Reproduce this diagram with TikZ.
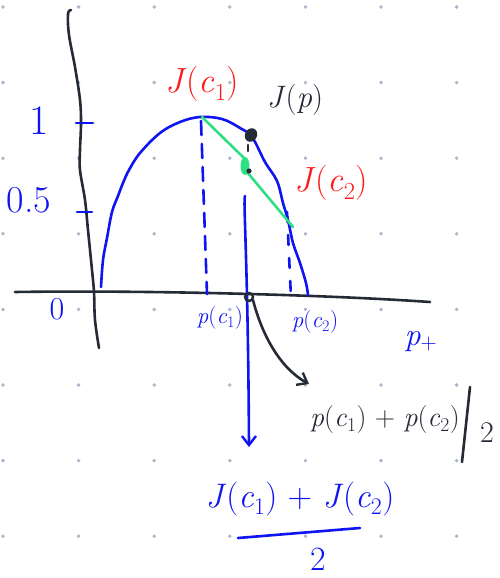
\documentclass[tikz,border=0pt]{standalone}
\usepackage{fontspec}
\usetikzlibrary{arrows.meta}
\definecolor{inkblue}{HTML}{0F14F0}
\definecolor{inkred}{HTML}{FF1A1A}
\definecolor{inkdark}{HTML}{252B36}
\definecolor{inkgreen}{HTML}{2EE083}
\definecolor{griddot}{HTML}{A9B6CC}
\newcommand{\lowsub}[1]{\textsubscript{#1}}
\tikzset{
  pen/.style={line width=2.6pt, line cap=round, line join=round},
  axisline/.style={pen, inkdark},
  bluepen/.style={pen, inkblue},
  dashpen/.style={pen, inkblue, dash pattern=on 14pt off 9pt},
  lbl/.style={inner sep=0pt, font=\fontsize{#1}{#1}\selectfont},
  lbl/.default=28,
  tip/.style={-{Straight Barb[length=9pt,width=14pt,line width=2.4pt]}}
}
\begin{document}
\begin{tikzpicture}[x=1pt,y=-1pt]
\useasboundingbox (0,0) rectangle (499,578);
\fill[white] (0,0) rectangle (499,578);
% dot grid
\foreach \i in {0,...,6}{
  \foreach \j in {0,...,7}{
    \fill[griddot] ({3+75.6*\i},{7+75.6*\j}) circle (1.9);
  }
}
% axes
\draw[axisline] plot[smooth, tension=0.6] coordinates {
  (71,10) (68,14) (69,35) (75,67) (80,100) (81,123) (80,150) (80,170)
  (85,200) (88,230) (92,270) (94,292) (95,320) (99,348)};
\draw[axisline] (15,292) .. controls (150,290) and (330,295) .. (430,302);
% ticks
\draw[bluepen] (76,123) -- (93,123);
\draw[bluepen] (77,212) -- (92,212);
% curve
\draw[bluepen] plot[smooth, tension=0.6] coordinates {
  (101,287) (103,260) (107,238) (112,212) (118,196) (123,183) (129,170)
  (140,153) (160,133) (180,122) (200,117) (222,119) (240,128) (252,137)
  (265,162) (277,181) (283,203) (288,220) (293,243) (300,263) (306,283) (308,295)};
% dashed drop lines
\coordinate (c1top) at (201,121);
\coordinate (c1bot) at (207,294);
\coordinate (c2top) at (287,212);
\coordinate (c2bot) at (291,298);
\draw[dashpen] (c1top) -- (c1bot);
\draw[dashpen, dash pattern=on 10pt off 13pt] (c2top) -- (c2bot);
% green chord
\draw[pen, inkgreen] (202,117) -- (244,158) -- (247,172) -- (293,227);
\fill[inkgreen] (245,166) ellipse (4.5 and 9);
% short dark marks between J(p) and chord
\draw[pen, inkdark] (248,145) -- (248,151);
\fill[inkdark] (249,171) circle (2.6);
% J(p) dot
\fill[inkdark, rotate around={-30:(251,135)}] (251,135) ellipse (6 and 7);
% vertical arrow down to the fraction
\coordinate (vtop) at (245,196);
\coordinate (vbot) at (249,447);
\draw[bluepen, tip] (vtop) .. controls (243,200) and (248,260) .. (vbot);
% midpoint on axis
\draw[inkdark, line width=2.4pt] (249,297) circle (4);
% curved black arrow
\coordinate (cstart) at (253,300);
\coordinate (cend) at (309,384);
\draw[axisline, tip] (cstart) .. controls (262,335) and (280,368) .. (cend);
% labels
\node[lbl=42, inkblue] (one) at (39,121) {1};
\node[lbl=38, inkblue] (half) at (29,200) {0.5};
\node[lbl=32, inkblue] (zero) at (57,309) {0};
\node[lbl=35, inkred] (Jc1) at (202,84) {\textit{J}(\textit{c}\lowsub{1})};
\node[lbl=31, inkdark] (Jp) at (295,100) {\textit{J}(\textit{p})};
\node[lbl=35, inkred] (Jc2) at (331,183) {\textit{J}(\textit{c}\lowsub{2})};
\node[lbl=23, inkblue] (pc1) at (220,318) {\textit{p}(\textit{c}\lowsub{1})};
\node[lbl=23, inkblue] (pc2) at (315,322) {\textit{p}(\textit{c}\lowsub{2})};
\node[lbl=32, inkblue] (pplus) at (421,342) {\textit{p}\lowsub{+}};
\node[lbl=28, inkdark] (pavg) at (385,420) {\textit{p}(\textit{c}\lowsub{1}) + \textit{p}(\textit{c}\lowsub{2})};
\draw[axisline] (470,387) -- (462,462);
\node[lbl=30, inkdark] (ptwo) at (487,433) {2};
\node[lbl=34, inkblue] (Javg) at (300,499) {\textit{J}(\textit{c}\lowsub{1}) + \textit{J}(\textit{c}\lowsub{2})};
\draw[bluepen] (238,538) -- (360,528);
\node[lbl=34, inkblue] (Jtwo) at (318,559) {2};
\end{tikzpicture}
\end{document}
